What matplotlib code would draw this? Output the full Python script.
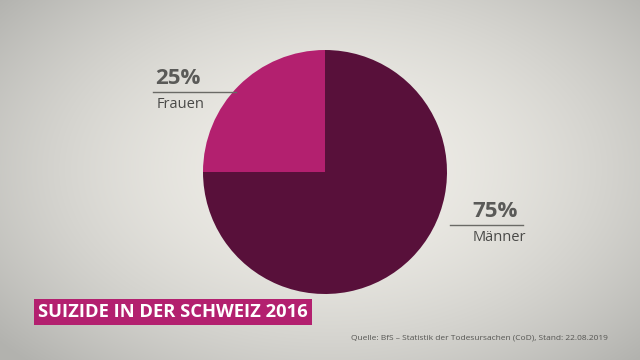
import numpy as np
import matplotlib
import matplotlib.pyplot as plt

matplotlib.rcParams['font.family'] = ['Open Sans', 'DejaVu Sans']

labels = ['Frauen', 'Männer']
shares = [25, 75]
colors = ['#B3206F', '#58103A']
title = 'SUIZIDE IN DER SCHWEIZ 2016'
source = 'Quelle: BfS – Statistik der Todesursachen (CoD), Stand: 22.08.2019'

fig = plt.figure(figsize=(6.4, 3.6), dpi=100)
ax = fig.add_axes([0, 0, 1, 1])

# hintergrund: radialer verlauf
yy, xx = np.mgrid[0:360, 0:640]
d = np.sqrt(((xx - 330) / 430.0) ** 2 + ((yy - 190) / 270.0) ** 2)
d = np.clip(d, 0, 1)
c0 = np.array([0.94, 0.933, 0.91])
c1 = np.array([0.70, 0.70, 0.685])
img = c0 + (c1 - c0) * (d[..., None] ** 1.8)
ax.imshow(img, extent=(0, 640, 0, 360), origin='lower', zorder=0)

ax.pie(shares, colors=colors, startangle=90, counterclock=True,
       center=(325, 188), radius=122, frame=True,
       wedgeprops=dict(linewidth=0))
ax.set_xlim(0, 640)
ax.set_ylim(0, 360)
ax.set_aspect('auto')
ax.axis('off')

# beschriftungen
ax.plot([153, 236], [268, 268], color='#6a6a66', lw=1, zorder=5)
ax.text(155, 271, '25%', fontsize=16, fontweight='bold', color='#5a5a58', ha='left', va='bottom')
ax.text(157, 263, labels[0], fontsize=10.5, color='#4a4a48', ha='left', va='top')

ax.plot([450, 523], [135, 135], color='#6a6a66', lw=1, zorder=5)
ax.text(472, 138, '75%', fontsize=16, fontweight='bold', color='#5a5a58', ha='left', va='bottom')
ax.text(473, 130, labels[1], fontsize=10.5, color='#4a4a48', ha='left', va='top')

ax.text(38, 48, title, fontsize=13.2, fontweight='bold', color='white', ha='left', va='center',
        bbox=dict(boxstyle='square,pad=0.22', facecolor='#B3206F', edgecolor='none'))
ax.text(608, 22, source, fontsize=6, color='#555552', ha='right', va='center')

plt.savefig('out.png', dpi=100)
